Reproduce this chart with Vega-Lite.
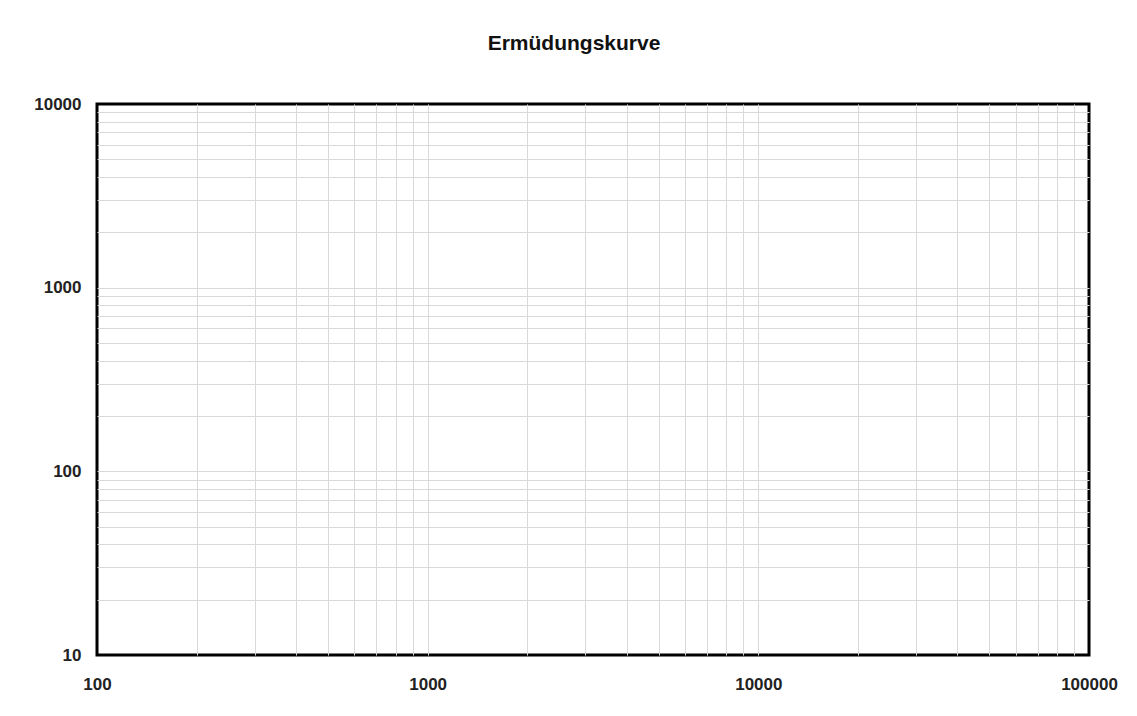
{
  "$schema": "https://vega.github.io/schema/vega-lite/v6.json",
  "autosize": "none",
  "width": 992,
  "height": 551,
  "padding": {"left": 97, "top": 104, "right": 48, "bottom": 61},
  "background": "white",
  "title": {
    "text": "Ermüdungskurve",
    "font": "Liberation Sans",
    "fontSize": 21,
    "fontWeight": "bold",
    "color": "#111111",
    "anchor": "middle",
    "baseline": "alphabetic",
    "dx": -19,
    "offset": 24
  },
  "data": {
    "values": [
      {"N": 100, "S": 10},
      {"N": 100000, "S": 10000}
    ]
  },
  "mark": {"type": "point", "opacity": 0},
  "encoding": {
    "x": {
      "field": "N",
      "type": "quantitative",
      "scale": {"type": "log", "domain": [100, 100000], "nice": false},
      "axis": {
        "title": null,
        "values": [100,200,300,400,500,600,700,800,900,1000,2000,3000,4000,5000,6000,7000,8000,9000,10000,20000,30000,40000,50000,60000,70000,80000,90000,100000],
        "format": "d",
        "labelExpr": "(datum.value == 100 || datum.value == 1000 || datum.value == 10000 || datum.value == 100000) ? datum.label : ''",
        "grid": true,
        "gridColor": {"condition": {"test": "datum.value == 100 || datum.value == 100000", "value": "transparent"}, "value": "#d9d9d9"},
        "gridWidth": 1,
        "ticks": false,
        "domain": false,
        "labelPadding": 21,
        "labelFont": "Liberation Sans",
        "labelFontWeight": "bold",
        "labelFontSize": 17,
        "labelColor": "#222222",
        "labelFlush": false,
        "labelOverlap": false
      }
    },
    "y": {
      "field": "S",
      "type": "quantitative",
      "scale": {"type": "log", "domain": [10, 10000], "nice": false},
      "axis": {
        "title": null,
        "values": [10,20,30,40,50,60,70,80,90,100,200,300,400,500,600,700,800,900,1000,2000,3000,4000,5000,6000,7000,8000,9000,10000],
        "format": "d",
        "labelExpr": "(datum.value == 10 || datum.value == 100 || datum.value == 1000 || datum.value == 10000) ? datum.label : ''",
        "grid": true,
        "gridColor": {"condition": {"test": "datum.value == 10 || datum.value == 10000", "value": "transparent"}, "value": "#d9d9d9"},
        "gridWidth": 1,
        "ticks": false,
        "domain": false,
        "labelPadding": 16,
        "labelFont": "Liberation Sans",
        "labelFontWeight": "bold",
        "labelFontSize": 17,
        "labelColor": "#222222",
        "labelFlush": false,
        "labelOverlap": false
      }
    }
  },
  "config": {
    "view": {"stroke": "#000000", "strokeWidth": 3}
  }
}
